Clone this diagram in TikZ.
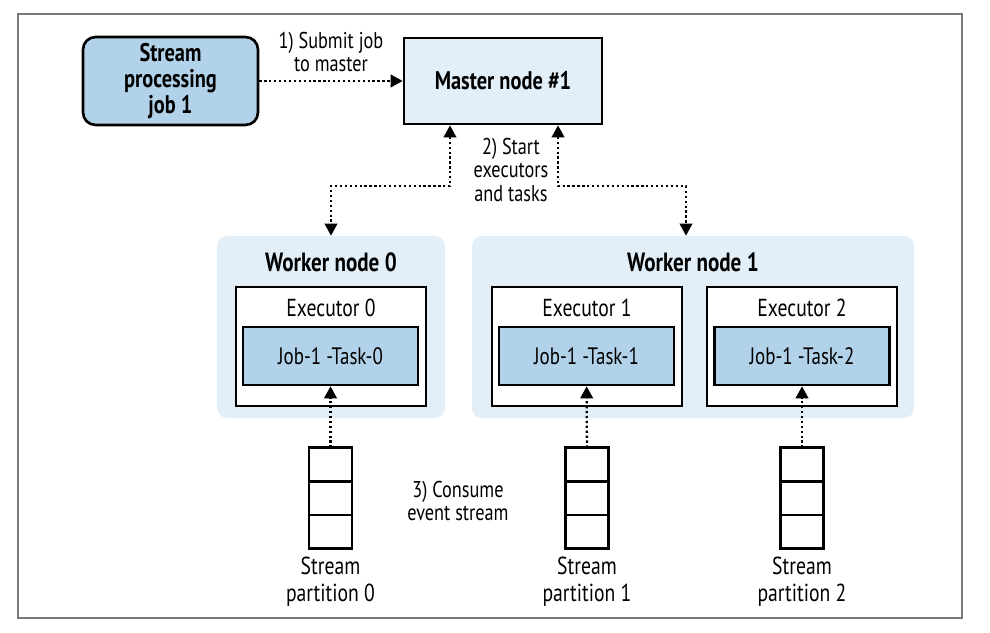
\documentclass[tikz,border=0pt]{standalone}
\usepackage{fontspec}
\setmainfont[FakeStretch=0.8]{PT Sans}
\usetikzlibrary{arrows.meta,calc,positioning}

\definecolor{taskblue}{RGB}{178,210,234}
\definecolor{paleblue}{RGB}{226,238,248}
\definecolor{framegray}{RGB}{120,120,120}

\tikzset{
  outline/.style={draw, line width=1.5pt},
  jobbox/.style={outline, rounded corners=0.25cm, fill=taskblue, minimum width=3.5cm, minimum height=1.72cm, align=center, font=\fontsize{14.5}{15}\selectfont\bfseries},
  masterbox/.style={outline, fill=paleblue, minimum width=3.96cm, minimum height=1.72cm, font=\fontsize{14.5}{14}\selectfont\bfseries},
  workerbox/.style={fill=paleblue, rounded corners=0.2cm, minimum height=3.64cm},
  execbox/.style={outline, fill=white, minimum width=3.8cm, minimum height=2.38cm},
  taskbox/.style={outline, fill=taskblue, minimum width=3.5cm, minimum height=1.16cm, font=\fontsize{13.5}{14}\selectfont},
  cellbox/.style={outline, outer sep=0pt, minimum width=0.86cm, minimum height=0.673cm},
  title/.style={font=\fontsize{15}{14}\selectfont\bfseries},
  subtitle/.style={font=\fontsize{14}{14}\selectfont},
  steplabel/.style={align=center, font=\fontsize{13}{13.6}\selectfont},
  plabel/.style={align=center, font=\fontsize{14}{15}\selectfont},
  flow/.style={dash pattern=on 1.3pt off 1.5pt, line width=1.3pt, -{Triangle[length=0.24cm, width=0.25cm]}},
  bothflow/.style={flow, {Triangle[length=0.24cm, width=0.25cm]}-{Triangle[length=0.24cm, width=0.25cm]}}
}

\begin{document}
\begin{tikzpicture}
  % Canvas and frame
  \useasboundingbox (0,0) rectangle (19.8,12.64);
  \draw[framegray, line width=0.8pt] (0.36,0.28) rectangle (19.24,12.36);

  % Job and master
  \node[jobbox] (job) at (3.41,11.02) {Stream\\processing\\job 1};
  \node[masterbox] (master) at (10.06,11.02) {Master node \#1};

  % Worker nodes
  \node[workerbox, minimum width=4.56cm] (worker0) at (6.62,6.10) {};
  \node[workerbox, minimum width=8.84cm] (worker1) at (13.86,6.10) {};
  \node[title] (wtitle0) at (6.62,7.40) {Worker node 0};
  \node[title] (wtitle1) at (13.86,7.40) {Worker node 1};

  % Executors
  \node[execbox] (exec0) at (6.62,5.71) {};
  \node[execbox] (exec1) at (11.74,5.71) {};
  \node[execbox] (exec2) at (16.04,5.71) {};
  \node[subtitle] (etitle0) at (6.62,6.48) {Executor 0};
  \node[subtitle] (etitle1) at (11.74,6.48) {Executor 1};
  \node[subtitle] (etitle2) at (16.04,6.48) {Executor 2};

  % Tasks
  \node[taskbox] (task0) at (6.61,5.52) {Job-1 -Task-0};
  \node[taskbox] (task1) at (11.73,5.52) {Job-1 -Task-1};
  \node[taskbox] (task2) at (16.04,5.52) {Job-1 -Task-2};

  % Stream partitions
  \node[cellbox] (q0) at (6.61,3.35) {};
  \node[cellbox, below=0pt of q0] (q0b) {};
  \node[cellbox, below=0pt of q0b] (q0c) {};
  \node[plabel, below=0.05cm of q0c] (p0) {Stream\\partition 0};

  \node[cellbox] (q1) at (11.74,3.35) {};
  \node[cellbox, below=0pt of q1] (q1b) {};
  \node[cellbox, below=0pt of q1b] (q1c) {};
  \node[plabel, below=0.05cm of q1c] (p1) {Stream\\partition 1};

  \node[cellbox] (q2) at (16.04,3.35) {};
  \node[cellbox, below=0pt of q2] (q2b) {};
  \node[cellbox, below=0pt of q2b] (q2c) {};
  \node[plabel, below=0.05cm of q2c] (p2) {Stream\\partition 2};

  % Step labels
  \node[steplabel] (s1) at (6.62,11.60) {1) Submit job\\to master};
  \node[steplabel] (s2) at (10.22,9.24) {2) Start\\executors\\and tasks};
  \node[steplabel] (s3) at (9.16,2.62) {3) Consume\\event stream};

  % Connectors
  \coordinate (ml) at ($(master.south)+(-1.06,0)$);
  \coordinate (mr) at ($(master.south)+(1.10,0)$);
  \draw[flow] (job) -- (master);
  \draw[bothflow] (ml) -- ++(0,-1.22) -| (worker0.north);
  \draw[bothflow] (mr) -- ++(0,-1.22) -| ($(worker1.north)+(-0.14,0)$);
  \draw[flow] (q0) -- (task0);
  \draw[flow] (q1) -- (task1);
  \draw[flow] (q2) -- (task2);
\end{tikzpicture}
\end{document}
